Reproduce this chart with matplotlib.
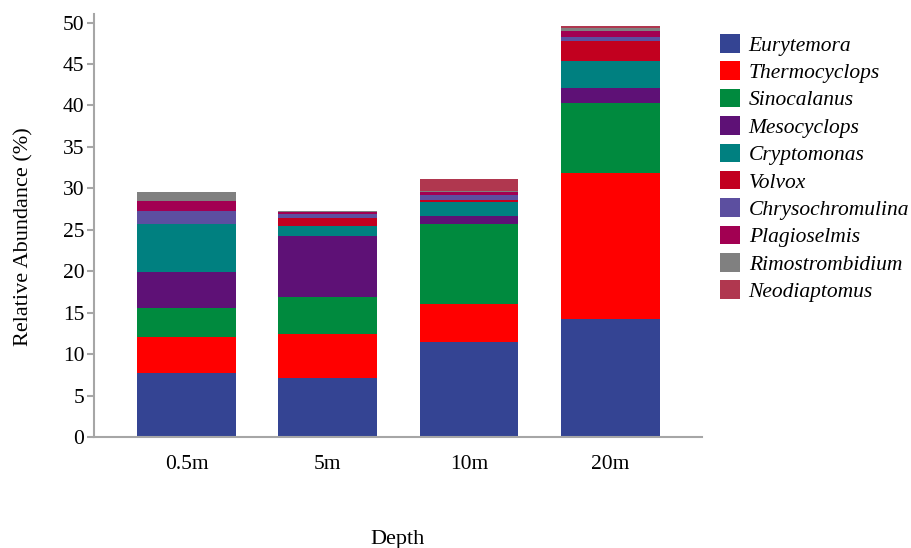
import numpy as np
import matplotlib.pyplot as plt

plt.rcParams['font.family'] = ['Liberation Serif', 'DejaVu Serif']

depths = ['0.5m', '5m', '10m', '20m']
taxa = ['Eurytemora', 'Thermocyclops', 'Sinocalanus', 'Mesocyclops',
        'Cryptomonas', 'Volvox', 'Chrysochromulina', 'Plagioselmis',
        'Rimostrombidium', 'Neodiaptomus']

# relative abundance (%) per taxon, one value per depth
eurytemora = [7.7, 7.1, 11.5, 14.2]
thermocyclops = [4.4, 5.3, 4.6, 17.6]
sinocalanus = [3.4, 4.5, 9.6, 8.5]
mesocyclops = [4.4, 7.3, 0.9, 1.8]
cryptomonas = [5.8, 1.3, 1.7, 3.3]
volvox = [0.0, 0.9, 0.3, 2.4]
chrysochromulina = [1.6, 0.5, 0.6, 0.5]
plagioselmis = [1.2, 0.3, 0.3, 0.7]
rimostrombidium = [1.1, 0.1, 0.2, 0.3]
neodiaptomus = [0.0, 0.0, 1.4, 0.3]

colors = ['#344493', '#FF0000', '#008A3E', '#5E1176', '#008080',
          '#C2001F', '#5C4FA0', '#A20052', '#808080', '#B0374F']

series = [eurytemora, thermocyclops, sinocalanus, mesocyclops, cryptomonas,
          volvox, chrysochromulina, plagioselmis, rimostrombidium, neodiaptomus]

fig = plt.figure(figsize=(9.12, 5.48), dpi=100)
ax = fig.add_axes([0.1031, 0.2026, 0.6666, 0.7714])

x = np.arange(len(depths))
bottom = np.zeros(len(depths))
for name, vals, c in zip(taxa, series, colors):
    vals = np.array(vals)
    ax.bar(x, vals, 0.7, bottom=bottom, color=c, label=name, linewidth=0)
    bottom += vals

ax.set_xlim(-0.655, 3.65)
ax.set_ylim(0, 51)
ax.set_yticks(np.arange(0, 51, 5))
ax.set_xticks(x)
ax.set_xticklabels(depths)

for s in ['top', 'right']:
    ax.spines[s].set_visible(False)
for s in ['left', 'bottom']:
    ax.spines[s].set_color('#A6A6A6')
    ax.spines[s].set_linewidth(1.5)
ax.tick_params(axis='y', colors='#A6A6A6', length=5, width=1.5, labelsize=15.5,
               labelcolor='black', pad=2)
ax.tick_params(axis='x', length=0, labelsize=15.5, pad=13)

ax.set_ylabel('Relative Abundance (%)', fontsize=16)
ax.yaxis.set_label_coords(-0.1, 0.475)
ax.set_xlabel('Depth', fontsize=16)
ax.xaxis.set_label_coords(0.5, -0.219)

leg = ax.legend(loc='upper left', bbox_to_anchor=(0.789, 0.938),
                bbox_transform=fig.transFigure, frameon=False,
                borderpad=0, borderaxespad=0,
                prop={'style': 'italic', 'size': 15.5}, handlelength=0.95,
                handleheight=0.95, labelspacing=0.265, handletextpad=0.4)

fig.savefig('out.png', dpi=100)
